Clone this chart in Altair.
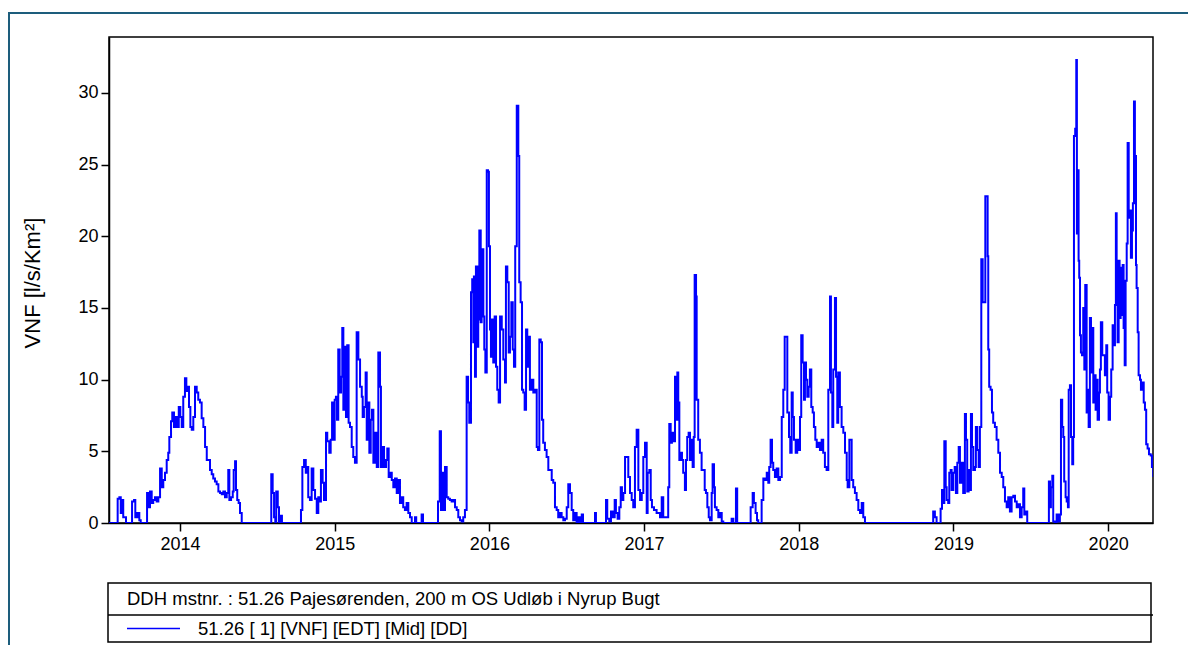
import altair as alt
import pandas as pd

# ---- data (decimal year, VNF l/s/km2) ----
t_1314 = [2013.541, 2013.591, 2013.597, 2013.608, 2013.617, 2013.625, 2013.633, 2013.651, 2013.683, 2013.690,
          2013.703, 2013.711, 2013.724, 2013.737, 2013.746, 2013.780, 2013.787, 2013.795, 2013.806, 2013.817,
          2013.827, 2013.838, 2013.849, 2013.860, 2013.871, 2013.882, 2013.892, 2013.903, 2013.914, 2013.924,
          2013.931, 2013.942, 2013.950, 2013.961, 2013.972, 2013.983, 2013.992, 2014.002, 2014.011, 2014.021,
          2014.032, 2014.041, 2014.050, 2014.058, 2014.067, 2014.076, 2014.086, 2014.097, 2014.108, 2014.118,
          2014.129, 2014.140, 2014.151, 2014.162, 2014.173, 2014.183, 2014.194, 2014.205, 2014.215, 2014.226,
          2014.237, 2014.248, 2014.259, 2014.270, 2014.280, 2014.291, 2014.302, 2014.312, 2014.319, 2014.330,
          2014.341, 2014.347, 2014.356, 2014.362, 2014.370, 2014.379, 2014.388, 2014.399, 2014.586, 2014.590,
          2014.599, 2014.608, 2014.616, 2014.622, 2014.632, 2014.640, 2014.651, 2014.659]
v_1314 = [0, 0, 1.7, 1.8, 0.7, 1.6, 0.4, 0, 0, 1.5,
          1.6, 0.4, 0.7, 0.2, 0, 0, 2.1, 1.1, 2.2, 1.4,
          1.6, 1.8, 1.5, 1.8, 3.8, 2.5, 3.0, 3.5, 4.4, 4.9,
          6.0, 7.1, 7.7, 6.7, 7.4, 6.7, 8.1, 7.4, 6.7, 8.8,
          10.1, 9.2, 9.5, 8.1, 6.7, 6.5, 7.4, 9.5, 9.1, 8.6,
          8.4, 7.3, 6.7, 5.3, 4.4, 4.4, 3.7, 3.4, 3.1, 2.9,
          2.7, 2.2, 2.1, 2.0, 2.2, 1.8, 2.1, 3.7, 1.6, 1.8,
          2.2, 3.7, 4.3, 2.3, 1.6, 1.4, 0.7, 0, 0, 3.4,
          2.1, 0.4, 0, 2.2, 1.1, 0, 0.5, 0]

t_1415 = [2014.776, 2014.782, 2014.791, 2014.802, 2014.813, 2014.821, 2014.829, 2014.840, 2014.851, 2014.862,
          2014.873, 2014.884, 2014.894, 2014.905, 2014.911, 2014.922, 2014.931, 2014.944, 2014.952, 2014.965,
          2014.974, 2014.983, 2014.991, 2015.000, 2015.008, 2015.015, 2015.023, 2015.032, 2015.041, 2015.049,
          2015.056, 2015.065, 2015.073, 2015.081, 2015.090, 2015.099, 2015.110, 2015.120, 2015.131, 2015.142,
          2015.153, 2015.164, 2015.175, 2015.181, 2015.189, 2015.200, 2015.207, 2015.215, 2015.224, 2015.233,
          2015.241, 2015.250, 2015.261, 2015.272, 2015.282, 2015.293, 2015.299, 2015.310, 2015.319, 2015.332,
          2015.340, 2015.349, 2015.358, 2015.369, 2015.379, 2015.390, 2015.401, 2015.411, 2015.422, 2015.433,
          2015.443, 2015.454, 2015.465, 2015.476, 2015.487, 2015.498, 2015.515, 2015.519, 2015.527, 2015.556,
          2015.562, 2015.571]
v_1415 = [0, 0.9, 3.9, 4.4, 3.5, 3.9, 1.8, 1.6, 3.8, 2.3,
          1.7, 0.7, 1.8, 1.5, 3.7, 2.8, 1.6, 6.3, 5.7, 4.9,
          5.8, 8.4, 5.8, 8.6, 8.8, 7.2, 12.1, 9.1, 10.2, 13.6,
          7.9, 12.3, 7.4, 12.4, 7.0, 6.7, 5.3, 4.6, 4.2, 13.3,
          11.4, 9.5, 8.8, 7.4, 8.1, 10.5, 5.8, 8.4, 4.9, 7.2,
          7.9, 4.2, 6.3, 3.9, 11.9, 9.5, 3.9, 5.3, 3.9, 4.4,
          5.2, 3.2, 3.5, 3.0, 2.5, 3.1, 2.1, 3.0, 1.4, 1.8,
          1.1, 0.9, 1.4, 0.7, 0.4, 0, 0, 0.4, 0, 0,
          0.6, 0]

t_1516 = [2015.659, 2015.668, 2015.679, 2015.687, 2015.696, 2015.705, 2015.713, 2015.724, 2015.734, 2015.745,
          2015.756, 2015.767, 2015.778, 2015.789, 2015.799, 2015.810, 2015.821, 2015.831, 2015.842, 2015.853,
          2015.862, 2015.870, 2015.881, 2015.889, 2015.896, 2015.900, 2015.907, 2015.913, 2015.922, 2015.928,
          2015.935, 2015.944, 2015.950, 2015.961, 2015.967, 2015.974, 2015.983, 2015.991, 2015.997, 2016.004,
          2016.010, 2016.017, 2016.025, 2016.034, 2016.043, 2016.051, 2016.060, 2016.069, 2016.080, 2016.090,
          2016.101, 2016.107, 2016.116, 2016.125, 2016.133, 2016.142, 2016.151, 2016.159, 2016.167, 2016.177,
          2016.187, 2016.193, 2016.202, 2016.211, 2016.219, 2016.228, 2016.237, 2016.245, 2016.254, 2016.262,
          2016.273, 2016.284, 2016.295, 2016.306, 2016.314, 2016.323, 2016.332, 2016.340, 2016.348, 2016.359,
          2016.370, 2016.381, 2016.392, 2016.403, 2016.413, 2016.424, 2016.435, 2016.445, 2016.456, 2016.467,
          2016.478, 2016.489, 2016.500, 2016.510, 2016.521, 2016.532, 2016.542, 2016.553, 2016.564, 2016.575,
          2016.586, 2016.597, 2016.605]
v_1516 = [0, 1.5, 6.4, 0.9, 3.5, 0.9, 3.9, 1.8, 1.7, 1.6,
          1.5, 1.6, 1.1, 0.9, 0.4, 0.2, 0.1, 0.4, 0.9, 10.2,
          8.4, 7.0, 16.1, 17.0, 12.6, 17.2, 10.2, 17.9, 12.3, 14.2,
          20.4, 14.0, 19.1, 14.4, 12.1, 10.5, 24.6, 24.5, 19.3, 13.5,
          11.6, 14.2, 11.2, 14.4, 10.9, 9.3, 8.4, 14.4, 13.5, 11.4,
          9.8, 17.9, 16.8, 11.9, 13.0, 15.4, 12.1, 10.9, 19.3, 29.1,
          25.6, 16.8, 15.4, 9.3, 9.1, 7.9, 13.5, 10.9, 13.0, 9.3,
          10.0, 9.1, 9.3, 5.3, 5.1, 12.8, 12.6, 7.2, 5.6, 5.1,
          4.6, 3.7, 3.7, 3.0, 2.8, 1.1, 0.9, 0.4, 0.7, 0.4,
          0.2, 0.3, 1.1, 2.7, 2.1, 0.9, 0.2, 0.7, 0, 0.4,
          0, 0.6, 0]

t_1617 = [2016.678, 2016.683, 2016.689, 2016.747, 2016.754, 2016.762, 2016.775, 2016.786, 2016.797, 2016.810,
          2016.818, 2016.829, 2016.840, 2016.849, 2016.857, 2016.866, 2016.877, 2016.888, 2016.898, 2016.909,
          2016.920, 2016.930, 2016.941, 2016.952, 2016.963, 2016.974, 2016.985, 2016.995, 2017.006, 2017.017,
          2017.023, 2017.034, 2017.043, 2017.051, 2017.064, 2017.081, 2017.103, 2017.114, 2017.124, 2017.146,
          2017.156, 2017.163, 2017.172, 2017.180, 2017.189, 2017.200, 2017.206, 2017.215, 2017.221, 2017.228,
          2017.237, 2017.245, 2017.253, 2017.264, 2017.271, 2017.279, 2017.288, 2017.297, 2017.305, 2017.314,
          2017.321, 2017.327, 2017.336, 2017.340, 2017.350, 2017.361, 2017.372, 2017.383, 2017.392, 2017.400,
          2017.409, 2017.418, 2017.426, 2017.437, 2017.443, 2017.452, 2017.458, 2017.469, 2017.480, 2017.491,
          2017.502, 2017.512, 2017.560, 2017.566, 2017.577, 2017.590, 2017.594, 2017.602]
v_1617 = [0, 0.7, 0, 0, 1.6, 0.3, 0.1, 0.8, 0.4, 1.6,
          0.7, 0.3, 1.1, 2.5, 1.6, 2.1, 4.6, 4.6, 3.2, 2.1,
          1.6, 1.1, 5.3, 6.5, 2.3, 1.6, 2.1, 4.6, 5.6, 0.7,
          3.5, 3.7, 1.6, 1.1, 0.9, 0.7, 0.4, 1.8, 0.4, 0.4,
          2.5, 6.9, 5.6, 6.3, 5.7, 10.2, 7.2, 10.5, 8.4, 4.4,
          4.9, 4.4, 3.5, 2.3, 4.4, 6.0, 6.3, 4.4, 5.8, 3.9,
          6.0, 17.3, 15.8, 8.6, 5.8, 4.9, 3.7, 3.7, 2.3, 2.1,
          1.1, 0.4, 0.2, 2.1, 4.1, 2.5, 1.1, 0.9, 0.4, 0.7,
          0.1, 0, 0, 0.3, 0, 0, 2.4, 0]

t_1718 = [2017.680, 2017.689, 2017.702, 2017.710, 2017.721, 2017.730, 2017.738, 2017.751, 2017.760, 2017.771,
          2017.782, 2017.793, 2017.803, 2017.809, 2017.818, 2017.827, 2017.835, 2017.846, 2017.857, 2017.868,
          2017.879, 2017.890, 2017.900, 2017.909, 2017.919, 2017.926, 2017.937, 2017.945, 2017.954, 2017.961,
          2017.969, 2017.980, 2017.990, 2018.001, 2018.008, 2018.016, 2018.025, 2018.034, 2018.040, 2018.047,
          2018.055, 2018.064, 2018.072, 2018.081, 2018.090, 2018.098, 2018.107, 2018.116, 2018.126, 2018.137,
          2018.148, 2018.158, 2018.169, 2018.180, 2018.191, 2018.202, 2018.208, 2018.217, 2018.223, 2018.234,
          2018.241, 2018.249, 2018.255, 2018.266, 2018.277, 2018.288, 2018.299, 2018.310, 2018.316, 2018.327,
          2018.336, 2018.342, 2018.352, 2018.363, 2018.374, 2018.385, 2018.396, 2018.407, 2018.417, 2018.428]
v_1718 = [0, 1.1, 2.1, 1.4, 0.7, 0.2, 0, 0, 1.6, 3.1,
          3.0, 3.5, 2.8, 3.9, 5.8, 4.2, 3.7, 3.2, 3.8, 3.0,
          3.2, 7.4, 9.3, 13.0, 13.0, 7.7, 6.0, 4.9, 9.1, 7.4,
          5.8, 4.9, 5.8, 5.1, 7.4, 13.1, 11.2, 8.6, 11.2, 10.0,
          8.8, 9.5, 10.7, 8.1, 7.7, 6.7, 5.8, 5.3, 5.6, 5.1,
          5.8, 4.9, 3.9, 3.7, 9.3, 15.8, 9.1, 6.7, 10.7, 15.7,
          10.2, 7.0, 10.5, 8.1, 6.7, 6.3, 4.9, 3.0, 2.5, 5.8,
          5.8, 3.0, 2.5, 2.1, 1.6, 0.9, 0.7, 1.4, 0.4, 0]

t_1819 = [2018.863, 2018.869, 2018.880, 2018.891, 2018.908, 2018.917, 2018.926, 2018.934, 2018.941, 2018.950,
          2018.956, 2018.966, 2018.973, 2018.982, 2018.988, 2018.999, 2019.008, 2019.016, 2019.025, 2019.034,
          2019.042, 2019.053, 2019.063, 2019.074, 2019.081, 2019.089, 2019.098, 2019.107, 2019.113, 2019.120,
          2019.128, 2019.139, 2019.145, 2019.154, 2019.163, 2019.171, 2019.180, 2019.189, 2019.197, 2019.206,
          2019.215, 2019.221, 2019.225, 2019.231, 2019.240, 2019.249, 2019.257, 2019.268, 2019.279, 2019.290,
          2019.301, 2019.312, 2019.322, 2019.333, 2019.344, 2019.354, 2019.365, 2019.376, 2019.387, 2019.398,
          2019.409, 2019.419, 2019.430, 2019.441, 2019.451, 2019.458, 2019.469, 2019.477]
v_1819 = [0, 0.8, 0.4, 0, 0, 1.0, 2.3, 1.4, 5.7, 2.5,
          1.6, 1.4, 3.5, 3.7, 2.3, 3.5, 3.9, 2.1, 4.2, 5.3,
          2.8, 4.2, 2.1, 7.6, 5.8, 2.2, 3.7, 2.3, 7.6, 5.3,
          3.7, 3.9, 6.7, 5.1, 3.9, 6.7, 18.4, 15.4, 15.4, 22.8,
          22.8, 18.6, 12.1, 9.5, 9.3, 7.7, 7.0, 6.7, 5.8, 4.9,
          3.5, 3.2, 2.5, 1.5, 1.1, 1.8, 0.8, 1.8, 1.9, 1.5,
          1.1, 1.3, 0.4, 1.1, 2.4, 0.6, 0.8, 0]

t_1920 = [2019.611, 2019.617, 2019.624, 2019.630, 2019.639, 2019.645, 2019.656, 2019.667, 2019.677, 2019.688,
          2019.695, 2019.703, 2019.710, 2019.716, 2019.725, 2019.732, 2019.740, 2019.745, 2019.753, 2019.760,
          2019.768, 2019.774, 2019.779, 2019.787, 2019.794, 2019.798, 2019.805, 2019.809, 2019.813, 2019.818,
          2019.824, 2019.831, 2019.839, 2019.846, 2019.852, 2019.861, 2019.868, 2019.874, 2019.882, 2019.889,
          2019.895, 2019.904, 2019.910, 2019.919, 2019.926, 2019.932, 2019.941, 2019.947, 2019.953, 2019.962,
          2019.971, 2019.979, 2019.988, 2019.994, 2020.003, 2020.012, 2020.020, 2020.029, 2020.038, 2020.044,
          2020.050, 2020.055, 2020.061, 2020.068, 2020.074, 2020.081, 2020.087, 2020.094, 2020.100, 2020.107,
          2020.113, 2020.120, 2020.126, 2020.133, 2020.141, 2020.147, 2020.154, 2020.160, 2020.167, 2020.173,
          2020.180, 2020.184, 2020.191, 2020.197, 2020.206, 2020.212, 2020.220, 2020.230, 2020.238, 2020.246,
          2020.255, 2020.264, 2020.275, 2020.283, 2020.292]
v_1920 = [0, 2.9, 1.1, 2.5, 3.3, 0.1, 0, 0.6, 0.1, 0.6,
          8.6, 6.7, 6.0, 2.9, 1.8, 1.5, 1.1, 9.3, 9.6, 6.0,
          4.1, 6.0, 27.0, 27.5, 32.3, 20.2, 24.6, 18.3, 17.1, 13.1,
          11.9, 11.7, 15.0, 10.7, 16.6, 7.7, 9.3, 6.7, 14.3, 10.5,
          13.6, 8.4, 10.3, 7.9, 10.0, 7.2, 9.1, 10.7, 14.0, 11.7,
          11.7, 10.3, 12.4, 9.1, 7.2, 8.8, 10.7, 13.8, 12.4, 15.2,
          21.6, 17.6, 12.6, 18.3, 14.3, 17.8, 14.5, 18.0, 13.6, 11.0,
          16.9, 19.5, 26.5, 21.3, 21.8, 18.5, 20.4, 22.3, 29.4, 25.6,
          18.0, 16.4, 13.3, 10.3, 10.0, 9.3, 9.8, 8.4, 7.9, 5.5,
          5.2, 4.8, 4.7, 3.9, 3.2]

YEAR_TICKS = [2014, 2015, 2016, 2017, 2018, 2019, 2020]
VNF_TICKS = [0, 5, 10, 15, 20, 25, 30]
Y_TITLE = "VNF [l/s/Km²]"
BOX_TITLE = "DDH mstnr. : 51.26 Pajesørenden, 200 m OS Udløb i Nyrup Bugt"
SERIES_NAME = "51.26 [ 1] [VNF] [EDT] [Mid] [DD]"

seasons = [(t_1314, v_1314), (t_1415, v_1415), (t_1516, v_1516), (t_1617, v_1617),
           (t_1718, v_1718), (t_1819, v_1819), (t_1920, v_1920)]
rows = []
for ts, vs in seasons:
    for t, v in zip(ts, vs):
        rows.append({"year": t, "vnf": v})
df = pd.DataFrame(rows)
one = pd.DataFrame({"k": [0]})

FONT = "Liberation Sans"
W, H = 1044, 486

x_scale = alt.Scale(domain=[2013.541, 2020.29], nice=False, zero=False)
y_scale = alt.Scale(domain=[0, 33.9], nice=False)

line = alt.Chart(df).mark_line(color="#0000ff", strokeWidth=2, clip=True,
                               interpolate="step-after").encode(
    x=alt.X("year:Q", scale=x_scale,
            axis=alt.Axis(values=YEAR_TICKS, format="d", title=None, labelPadding=4,
                          labelFlush=False, labelOverlap=False)),
    y=alt.Y("vnf:Q", scale=y_scale,
            axis=alt.Axis(values=VNF_TICKS, title=None, labelPadding=3)),
    order="year:Q",
)

frame_left = alt.Chart(one).mark_rule(color="#1d5d7c", strokeWidth=2).encode(
    x=alt.value(-100), y=alt.value(-24), y2=alt.value(700))
frame_top = alt.Chart(one).mark_rule(color="#1d5d7c", strokeWidth=2).encode(
    x=alt.value(-101), x2=alt.value(1200), y=alt.value(-24))

y_title = alt.Chart(one).mark_text(angle=270, align="center", baseline="middle",
                                   fontSize=22, font=FONT, color="black").encode(
    x=alt.value(-76), y=alt.value(246), text=alt.value(Y_TITLE))

legend_box = alt.Chart(one).mark_rect(fill="white", stroke="black", strokeWidth=1.5).encode(
    x=alt.value(-1), x2=alt.value(1042), y=alt.value(546), y2=alt.value(605))
legend_div = alt.Chart(one).mark_rule(color="black", strokeWidth=1.5).encode(
    x=alt.value(-1), x2=alt.value(1044), y=alt.value(578))
legend_line = alt.Chart(one).mark_rule(color="#0000ff", strokeWidth=1.5).encode(
    x=alt.value(18), x2=alt.value(71), y=alt.value(591.5))
legend_t1 = alt.Chart(one).mark_text(align="left", baseline="middle", fontSize=18.5,
                                     font=FONT, color="black").encode(
    x=alt.value(18), y=alt.value(562), text=alt.value(BOX_TITLE))
legend_t2 = alt.Chart(one).mark_text(align="left", baseline="middle", fontSize=18.5,
                                     font=FONT, color="black").encode(
    x=alt.value(89), y=alt.value(591.5), text=alt.value(SERIES_NAME))

chart = alt.layer(
    frame_left, frame_top, line, y_title, legend_box, legend_div, legend_line, legend_t1, legend_t2
).properties(
    width=W, height=H,
    autosize=alt.AutoSizeParams(type="none"),
    padding={"left": 101, "top": 29, "right": 35, "bottom": 122},
    background="white",
).configure_view(
    stroke="black", strokeWidth=1.5
).configure_axis(
    grid=False, domainColor="black", domainWidth=1.5, tickColor="black", tickWidth=1.5,
    tickSize=8, labelColor="black", labelFont=FONT, labelFontSize=18,
)

chart.save("out.html", embed_options={"renderer": "svg", "actions": False})
